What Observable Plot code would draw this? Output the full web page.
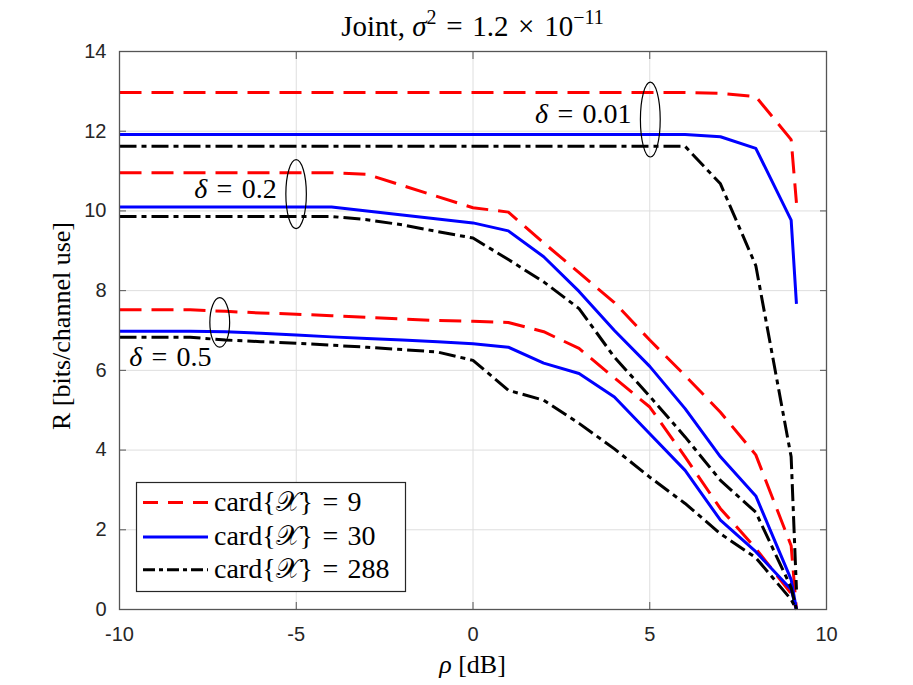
<!DOCTYPE html>
<html><head><meta charset="utf-8">
<script src="https://cdn.jsdelivr.net/npm/d3@7"></script>
<script src="https://cdn.jsdelivr.net/npm/@observablehq/plot@0.6"></script>
<style>body{margin:0;background:#fff} svg{display:block}</style>
</head><body><div id="chart"></div>
<script>
// ---- data ----
const rho = [-10,-9,-8,-7,-6,-5,-4,-3,-2,-1,0,1,2,3,4,5,6,7,8,9,9.15];
const cardValues = [9, 30, 288];
const deltaValues = [0.01, 0.2, 0.5];

// card = 9
const card9_d001 = [12.97,12.97,12.97,12.97,12.97,12.97,12.97,12.97,12.97,12.97,12.97,12.97,12.97,12.97,12.97,12.97,12.97,12.95,12.87,11.79,10.2];
const card9_d02  = [10.96,10.96,10.96,10.96,10.96,10.96,10.96,10.92,10.64,10.36,10.08,9.97,9.2,8.45,7.7,6.76,5.87,4.95,3.88,1.6,0];
const card9_d05  = [7.52,7.52,7.52,7.48,7.44,7.41,7.37,7.33,7.29,7.25,7.23,7.2,6.97,6.55,5.81,5.08,3.83,2.53,1.53,0.4,0];
// card = 30
const card30_d001 = [11.92,11.92,11.92,11.92,11.92,11.92,11.92,11.92,11.92,11.92,11.92,11.92,11.92,11.92,11.92,11.92,11.92,11.86,11.57,9.77,7.67];
const card30_d02  = [10.1,10.1,10.1,10.1,10.1,10.1,10.1,10.0,9.9,9.8,9.7,9.5,8.85,7.98,7.0,6.1,5.04,3.83,2.85,0.75,0];
const card30_d05  = [6.98,6.98,6.98,6.97,6.93,6.89,6.84,6.8,6.76,6.72,6.67,6.58,6.18,5.92,5.33,4.41,3.49,2.24,1.45,0.5,0];
// card = 288
const card288_d001 = [11.62,11.62,11.62,11.62,11.62,11.62,11.62,11.62,11.62,11.62,11.62,11.62,11.62,11.62,11.62,11.62,11.62,10.68,8.63,3.83,0.5];
const card288_d02  = [9.86,9.86,9.86,9.86,9.86,9.86,9.86,9.78,9.65,9.48,9.32,8.78,8.22,7.55,6.33,5.35,4.33,3.24,2.44,0.55,0];
const card288_d05  = [6.83,6.83,6.83,6.76,6.72,6.68,6.63,6.58,6.52,6.46,6.25,5.5,5.25,4.67,4.03,3.32,2.66,1.9,1.3,0.25,0];

const seriesByCard = [
  [card9_d001, card9_d02, card9_d05],
  [card30_d001, card30_d02, card30_d05],
  [card288_d001, card288_d02, card288_d05]
];
const seriesColors = ["#ff0000", "#0000ff", "#000000"];
const seriesDash = ["22,10", null, "17,5,5,5"];
const legendDash = ["15,10", null, "12,4,4,4"];
const legendLabels = ["card{\u{1D4B3}}\u2004=\u20049", "card{\u{1D4B3}}\u2004=\u200430", "card{\u{1D4B3}}\u2004=\u2004288"];

const xTicks = [-10, -5, 0, 5, 10];
const yTicks = [0, 2, 4, 6, 8, 10, 12, 14];

// annotations (delta groups)
const annoText = ["0.01", "0.2", "0.5"];
const annoEndX = [4.5, -5.54, -7.38];
const annoBaseY = [12.19, 10.31, 6.10];
const ellipseCX = [5.03, -4.99, -7.15];
const ellipseCY = [12.28, 10.41, 7.19];
const ellipseRX = [0.28, 0.29, 0.28];
const ellipseRY = [0.94, 0.865, 0.62];

// ---- tidy table ----
function rowsFor(ci) {
  return seriesByCard[ci].flatMap((vals, di) =>
    vals.map((v, i) => ({rho: rho[i], R: v, delta: deltaValues[di], card: cardValues[ci]})));
}

const SERIF = "'Liberation Serif', 'DejaVu Serif', serif";

function ellipsesMark(index, scales) {
  const {x, y} = scales;
  const g = d3.create("svg:g");
  ellipseCX.forEach((cx, i) => {
    g.append("ellipse")
      .attr("cx", x(cx)).attr("cy", y(ellipseCY[i]))
      .attr("rx", Math.abs(x(cx + ellipseRX[i]) - x(cx)))
      .attr("ry", Math.abs(y(ellipseCY[i] + ellipseRY[i]) - y(ellipseCY[i])))
      .attr("fill", "none").attr("stroke", "#000").attr("stroke-width", 1.2);
  });
  return g.node();
}

function annotationsMark(index, scales) {
  const {x, y} = scales;
  const g = d3.create("svg:g").attr("font-family", SERIF).attr("font-size", 28).attr("fill", "#000");
  annoText.forEach((t, i) => {
    const txt = g.append("text").attr("x", x(annoEndX[i])).attr("y", y(annoBaseY[i])).attr("text-anchor", "end");
    txt.append("tspan").attr("font-style", "italic").text("\u03B4");
    txt.append("tspan").text("\u2004=\u2004" + t);
  });
  return g.node();
}

function titleMark(index, scales, values, dims) {
  const cx = dims.marginLeft + (dims.width - dims.marginLeft - dims.marginRight) / 2;
  const g = d3.create("svg:g").attr("font-family", SERIF).attr("fill", "#000");
  const t = g.append("text").attr("x", cx).attr("y", 36).attr("text-anchor", "middle").attr("font-size", 29);
  t.append("tspan").text("Joint, ");
  t.append("tspan").attr("font-style", "italic").text("\u03C3");
  t.append("tspan").attr("font-size", 20).attr("dy", -12).text("2");
  t.append("tspan").attr("dy", 12).text("\u2004=\u20041.2\u2004\u00D7\u200410");
  t.append("tspan").attr("font-size", 20).attr("dy", -12).text("\u221211");
  return g.node();
}

function axisLabelsMark(index, scales, values, dims) {
  const g = d3.create("svg:g").attr("font-family", SERIF).attr("fill", "#000").attr("font-size", 26);
  const cx = dims.marginLeft + (dims.width - dims.marginLeft - dims.marginRight) / 2;
  const cy = dims.marginTop + (dims.height - dims.marginTop - dims.marginBottom) / 2;
  const xl = g.append("text").attr("x", cx).attr("y", 673).attr("text-anchor", "middle");
  xl.append("tspan").attr("font-style", "italic").text("\u03C1");
  xl.append("tspan").text(" [dB]");
  g.append("text").attr("transform", `translate(${70},${cy - 4}) rotate(-90)`)
    .attr("text-anchor", "middle").text("R [bits/channel use]");
  return g.node();
}

function legendMark(index, scales, values, dims) {
  const left = dims.marginLeft + 17.5;
  const bottom = dims.height - dims.marginBottom - 17.5;
  const w = 269, h = 109;
  const top = bottom - h;
  const g = d3.create("svg:g");
  g.append("rect").attr("x", left).attr("y", top).attr("width", w).attr("height", h)
    .attr("fill", "#fff").attr("stroke", "#262626").attr("stroke-width", 1.2);
  const rowY = [20, 54.6, 87.3];
  legendLabels.forEach((lab, i) => {
    const yy = top + rowY[i];
    const ln = g.append("line").attr("x1", left + 6.5).attr("x2", left + 71.5).attr("y1", yy).attr("y2", yy)
      .attr("stroke", seriesColors[i]).attr("stroke-width", 3);
    if (legendDash[i]) ln.attr("stroke-dasharray", legendDash[i]);
    g.append("text").attr("x", left + 77.5).attr("y", yy + 8).attr("text-anchor", "start")
      .attr("font-family", SERIF).attr("font-size", 28).attr("fill", "#000").text(lab);
  });
  return g.node();
}

const lineMarks = cardValues.map((c, ci) => Plot.line(rowsFor(ci), {
  x: "rho", y: "R", z: "delta",
  stroke: seriesColors[ci], strokeWidth: 3,
  strokeDasharray: seriesDash[ci] || undefined,
  strokeLinecap: "butt", strokeLinejoin: "round", curve: "linear"
}));

const chart = Plot.plot({
  width: 913, height: 685,
  marginLeft: 119, marginRight: 87, marginTop: 51, marginBottom: 76,
  x: {domain: [-10, 10]},
  y: {domain: [0, 14]},
  style: {fontFamily: "'Liberation Sans', Arial, sans-serif", fontSize: "20px", background: "#fff", color: "#262626"},
  marks: [
    Plot.gridX(xTicks, {stroke: "#dedede", strokeOpacity: 1, strokeWidth: 1}),
    Plot.gridY(yTicks, {stroke: "#dedede", strokeOpacity: 1, strokeWidth: 1}),
    ...lineMarks,
    ellipsesMark,
    annotationsMark,
    Plot.frame({stroke: "#555", strokeWidth: 1.3}),
    Plot.axisX(xTicks, {tickSize: -7, tickPadding: 24, tickFormat: d => String(d), label: null, stroke: "#555", fill: "#262626", fontSize: 20}),
    Plot.axisX(xTicks, {anchor: "top", tickSize: -7, tickFormat: () => "", label: null, stroke: "#555"}),
    Plot.axisY(yTicks, {tickSize: -7, tickPadding: 20, tickFormat: d => String(d), label: null, stroke: "#555", fill: "#262626", fontSize: 20}),
    Plot.axisY(yTicks, {anchor: "right", tickSize: -7, tickFormat: () => "", label: null, stroke: "#555"}),
    legendMark,
    titleMark,
    axisLabelsMark
  ]
});
document.getElementById("chart").append(chart);
</script>
</body></html>
